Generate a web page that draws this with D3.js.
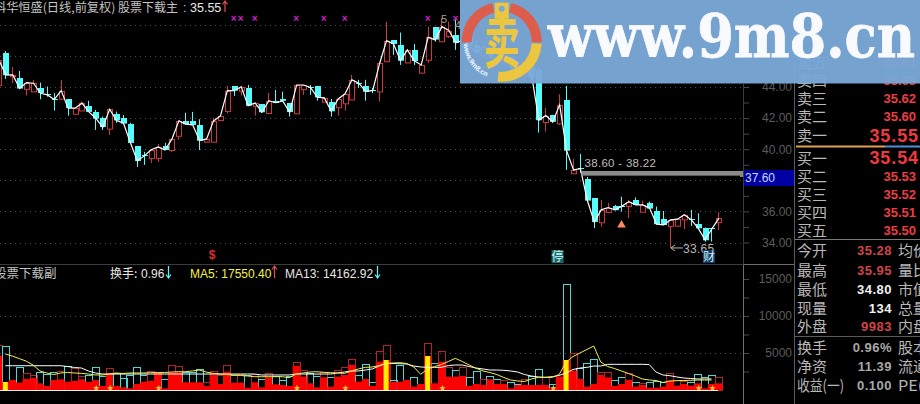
<!DOCTYPE html>
<meta charset="utf-8">
<style>
html, body { margin: 0; background: #000; overflow: hidden; }
text { font-family: "Liberation Sans", "Noto Sans CJK SC", sans-serif; }
.cn { font-family: "Noto Sans CJK SC", sans-serif; }
.axis text { fill: #5c5c5c; font-size: 12px; text-anchor: end; }
.axis line { stroke: #4a4a4a; }
.grid { stroke: #4c4c4c; stroke-dasharray: 1 4; }
</style>
<svg width="920" height="404"></svg>
<script src="https://d3js.org/d3.v7.min.js"></script>
<script>
// daily bars, oldest first. 67-77 sit behind the watermark so those are guesses
var open = [44.13,46.21,44.71,44.60,43.90,43.70,43.92,43.54,43.21,43.28,
  43.21,42.27,42.48,42.78,42.42,41.99,41.31,42.25,42.03,41.63,
  40.21,39.63,39.44,39.44,40.21,39.95,40.87,41.82,41.82,41.56,
  40.49,40.49,41.88,42.48,44.07,43.77,43.94,42.80,42.91,42.35,
  43.12,43.23,42.96,42.31,43.86,44.01,44.07,43.06,43.06,42.70,
  42.96,43.21,44.28,44.07,43.81,43.70,45.68,47.03,46.71,45.59,
  46.39,44.93,45.74,47.84,46.96,47.30,47.35,46.6,47.2,46.7,
  46.1,46.6,46.0,45.5,45.9,45.3,44.8,45.2,45.1,41.77,
  42.21,41.67,43.17,38.46,38.78,38.09,36.85,35.31,35.99,36.37,
  36.37,36.37,36.74,35.99,36.57,36.03,35.52,35.07,35.07,35.50,
  35.50,35.20,34.96,34.92,35.28];
var close = [45.74,44.78,44.78,43.92,44.28,44.24,43.60,43.49,43.20,43.77,
  42.64,42.64,42.96,42.40,41.99,41.41,42.57,41.84,41.67,40.41,
  39.25,39.57,39.96,40.15,39.95,40.66,41.82,41.61,41.56,40.55,
  40.66,41.82,42.14,43.77,43.77,44.01,42.80,42.98,42.38,43.12,
  42.99,43.11,42.38,44.13,44.13,43.97,43.34,43.30,42.46,43.23,
  43.56,44.46,44.25,43.70,43.78,45.53,46.98,46.77,45.70,46.39,
  45.68,45.42,47.20,47.03,47.88,47.63,46.85,47.0,46.6,46.2,
  46.6,46.0,45.6,45.9,45.3,44.9,45.2,44.6,41.87,42.16,
  41.77,42.85,39.91,38.67,38.75,36.70,35.31,36.10,36.25,36.10,
  36.34,36.63,36.42,36.42,36.21,35.18,35.13,35.45,35.50,35.78,
  35.47,34.92,34.17,34.89,35.55];
var high = [45.74,46.32,45.29,45.03,44.28,44.46,44.28,44.03,43.62,44.46,
  43.21,42.64,43.06,43.11,42.53,42.10,42.57,42.42,42.20,41.70,
  40.21,39.83,40.02,40.34,40.41,40.66,41.82,42.35,42.40,41.93,
  40.66,42.03,42.14,44.07,44.07,44.07,44.13,42.98,42.91,43.62,
  43.81,43.70,42.96,44.13,44.13,44.13,44.07,43.30,43.23,43.23,
  43.56,44.78,44.46,44.46,43.94,45.53,48.20,47.03,47.50,46.42,
  46.77,45.55,47.88,47.84,48.42,48.20,48.31,47.4,47.5,47.0,
  46.9,46.8,46.3,46.1,46.0,45.5,45.4,45.4,45.3,42.66,
  42.21,43.54,44.07,39.38,39.70,38.22,36.85,36.74,36.55,36.42,
  36.95,36.74,36.90,36.69,36.63,36.31,36.03,35.45,35.50,35.78,
  36.10,35.88,34.96,34.92,35.95];
var low = [44.13,44.52,44.26,43.92,43.45,43.70,43.21,43.38,42.48,43.17,
  42.16,42.27,42.48,42.40,41.24,41.24,40.92,41.69,41.60,40.40,
  38.86,38.99,39.12,39.18,39.95,39.83,40.60,41.61,41.56,39.95,
  40.40,40.49,41.88,42.31,43.43,43.45,42.80,42.16,42.33,42.35,
  42.98,43.11,42.10,42.31,43.49,43.49,43.12,43.06,42.10,42.16,
  42.48,43.21,43.94,43.12,43.60,43.06,45.68,46.06,45.42,45.59,
  45.42,44.93,45.55,46.92,46.96,47.16,46.39,46.5,46.4,46.0,
  45.9,45.8,45.5,45.3,45.1,44.7,44.6,44.4,41.07,41.13,
  41.69,41.56,38.67,38.41,38.48,36.61,34.92,35.02,35.99,36.10,
  35.99,35.56,36.42,35.99,36.21,35.18,35.13,33.65,35.07,34.86,
  35.07,34.92,34.06,34.06,34.80];

// lower panel
var volume = [6080,5940,1350,3100,2340,2030,2390,2120,2390,2570,
  3240,2970,1890,2030,3060,1890,2930,2250,1580,2030,
  3060,2030,2570,2250,1490,3380,3240,2470,2470,2800,
  1120,2570,2030,3380,2030,2160,2030,2160,1490,2250,
  1890,1350,1890,3740,2700,2250,1890,2470,1710,2700,
  3060,4190,2030,3470,1040,5270,6080,1350,3380,1350,
  1710,810,6310,3600,5310,3150,2700,3060,1710,2570,
  1440,1890,1440,1350,1040,810,1440,1890,2800,1800,
  810,1800,14270,4950,2930,3600,4150,2470,2470,1350,
  1710,2340,1040,900,1040,1260,1040,2340,1350,1260,
  1040,2120,1710,2030,1710];
var subVolume = [4630,1080,1350,990,1490,1620,900,540,1350,1440,
  1120,1220,1440,1080,1350,540,2250,540,360,230,
  810,1120,1220,2250,230,2390,2390,1040,1040,1040,
  540,2030,810,2470,990,990,310,1040,360,1710,
  770,680,540,3280,1800,900,360,1710,450,1800,
  2030,3380,1120,1490,540,3820,4050,1120,1120,1350,
  450,810,4590,900,3820,1800,1800,1890,540,810,
  680,1440,810,810,230,680,680,680,680,680,
  230,1800,4050,2610,1490,450,810,2030,1710,540,
  810,1350,450,680,310,310,450,1260,580,810,
  580,900,230,810,900];
var ma5 = [null,4860,4590,4250,3910,3380,2570,2300,2090,2300,
  2360,2300,2250,2160,2030,2030,2160,2300,2230,2300,
  2300,2300,2340,2360,2360,2430,2470,2470,2570,2700,
  2430,2250,2160,2090,2030,1960,1890,1800,1800,1800,
  1800,1800,1660,2160,2300,2430,2470,2390,2340,2300,
  2250,2570,2840,3060,3110,3310,3600,3650,3690,3580,
  3110,2120,2840,3170,3440,3850,4280,3850,3380,2930,
  2570,2360,2090,1690,1350,1220,1150,1490,1710,1710,
  1710,2090,3780,4520,5000,5470,5940,3780,3170,2900,
  2570,2230,1890,1490,1350,1280,1010,1220,1260,1280,
  1310,1350,1350,1350];
var ma13 = [null,3280,3280,3280,3280,3280,3280,3280,3280,3280,
  3170,3040,2970,2570,2300,2160,2160,2160,2160,2160,
  2160,2160,2160,2160,2160,2160,2160,2160,2160,2160,
  2160,2160,2160,2160,2160,2160,2160,2160,2030,2030,
  2030,2030,2030,2160,2160,2160,2160,2160,2160,2300,
  2430,2570,2570,2700,2840,3240,3580,3580,3550,3510,
  3240,3110,3060,3060,3060,3310,3380,3380,3170,2970,
  2840,2700,2700,2660,2570,2430,2090,1890,1760,1710,
  1800,1960,2300,2770,2970,3060,3240,3240,3470,3470,
  3470,3470,3470,3470,3440,2430,2030,1930,1760,1620,
  1550,1490,1490,1490];

var yellowBars = [1, 56, 62, 82];
var starBars = [14, 16, 23, 43, 50, 64, 80, 101, 103];
var crossBars = [34, 35, 37, 43, 47, 50, 62, 66];

var priceTicks = d3.range(34, 49);
var priceLabels = [34, 36, 40, 42, 44];
var volumeTicks = d3.range(2500, 17500, 2500);
var gapBand = [38.6, 38.3];

var askLabels = ["卖五", "卖四", "卖三", "卖二", "卖一"];
var askPrices = ["35.64", "35.63", "35.62", "35.60", "35.55"];
var bidLabels = ["买一", "买二", "买三", "买四", "买五"];
var bidPrices = ["35.54", "35.53", "35.52", "35.51", "35.50"];
var statLabels = ["今开", "最高", "最低", "现量", "外盘"];
var statValues = ["35.28", "35.95", "34.80", "134", "9983"];
var statColors = ["#d0444c", "#d0444c", "#f0f0f0", "#f0f0f0", "#d0444c"];
var statLabels2 = ["均价", "量比", "市值", "总量", "内盘"];
var infoLabels = ["换手", "净资", "收益(一)"];
var infoValues = ["0.96%", "11.39", "0.100"];
var infoLabels2 = ["股本", "流通", "PE(动)"];

var svg = d3.select("svg");
var RED = "#cc3a3e", CYAN = "#54fcfc";
var idx = d3.range(close.length);

var x = d3.scaleLinear().domain([0, 104]).range([-1.6, 718.4]);
var y = d3.scaleLinear().domain([34, 44]).range([242.5, 87]);
var v = d3.scaleLinear().domain([0, 15000]).range([390, 279]);
var step = x(1) - x(0);

// grid
svg.selectAll(".gp").data(priceTicks.filter(function(d) { return d % 2 == 0; })).enter().append("line")
    .attr("class", "grid")
    .attr("x1", 0).attr("x2", 744)
    .attr("y1", function(d) { return Math.round(y(d)) + .5; })
    .attr("y2", function(d) { return Math.round(y(d)) + .5; });
svg.selectAll(".gv").data([5000, 10000]).enter().append("line")
    .attr("class", "grid")
    .attr("x1", 0).attr("x2", 744)
    .attr("y1", function(d) { return Math.round(v(d)) + .5; })
    .attr("y2", function(d) { return Math.round(v(d)) + .5; });

// frame lines
svg.append("line").attr("x1", 0).attr("x2", 744).attr("y1", 264.5).attr("y2", 264.5).attr("stroke", "#3c3c3c");
svg.append("line").attr("x1", 743.5).attr("x2", 743.5).attr("y1", 84).attr("y2", 265).attr("stroke", "#3c3c3c");
svg.append("line").attr("x1", 743.5).attr("x2", 743.5).attr("y1", 265).attr("y2", 404).attr("stroke", "#6e6e6e");
svg.append("line").attr("x1", 743.5).attr("x2", 794).attr("y1", 264.5).attr("y2", 264.5).attr("stroke", "#6e6e6e");
svg.append("line").attr("x1", 794.5).attr("x2", 794.5).attr("y1", 0).attr("y2", 404).attr("stroke", "#5a5a5a");

// axes
var priceAxis = d3.axisRight(y).tickValues(priceTicks).tickSize(5)
    .tickFormat(function(d) { return priceLabels.indexOf(d) >= 0 ? d3.format(".2f")(d) : ""; });
svg.append("g").attr("class", "axis").attr("transform", "translate(744,0)").call(priceAxis)
    .call(function(g) { g.select(".domain").remove(); })
    .selectAll("text").attr("x", 48);
var volumeAxis = d3.axisRight(v).tickValues(volumeTicks).tickSize(5)
    .tickFormat(function(d) { return d % 5000 == 0 ? d : ""; });
svg.append("g").attr("class", "axis").attr("transform", "translate(744,0)").call(volumeAxis)
    .call(function(g) { g.select(".domain").remove(); })
    .selectAll("text").attr("x", 48);

// candles
function isUp(i) { return close[i] > open[i]; }
var candle = svg.append("g").selectAll("g").data(idx).enter().append("g");
candle.append("line")
    .attr("x1", function(i) { return Math.round(x(i)) + .5; })
    .attr("x2", function(i) { return Math.round(x(i)) + .5; })
    .attr("y1", function(i) { return y(high[i]); })
    .attr("y2", function(i) { return y(low[i]); })
    .attr("stroke", function(i) { return isUp(i) ? RED : CYAN; });
candle.append("rect")
    .attr("x", function(i) { return Math.round(x(i)) - 2 + (isUp(i) ? .5 : 0); })
    .attr("width", function(i) { return isUp(i) ? 5 : 6; })
    .attr("y", function(i) { return Math.round(y(Math.max(open[i], close[i]))) + (isUp(i) ? .5 : 0); })
    .attr("height", function(i) { return Math.max(1, Math.abs(y(open[i]) - y(close[i]))); })
    .attr("fill", function(i) { return isUp(i) ? "#000" : CYAN; })
    .attr("stroke", function(i) { return isUp(i) ? RED : "none"; });

// close line
svg.append("path").datum(idx)
    .attr("fill", "none").attr("stroke", "#fff").attr("stroke-width", 1.2)
    .attr("d", d3.line().x(function(i) { return x(i) + .5; }).y(function(i) { return y(close[i]); }));

// pink marks up top
svg.selectAll(".cross").data(crossBars).enter().append("text")
    .attr("x", function(i) { return x(i); }).attr("y", 22)
    .attr("text-anchor", "middle").attr("font-size", 10).attr("font-weight", "bold").attr("fill", "#d020d0")
    .text("×");

// gap band and its label
svg.append("rect").attr("x", x(84) + 1.5).attr("width", 743 - x(84) - 1.5)
    .attr("y", y(gapBand[0])).attr("height", y(gapBand[1]) - y(gapBand[0])).attr("fill", "#8c8c8c");
svg.append("text").attr("x", 584.5).attr("y", 167).attr("font-size", 11.5).attr("letter-spacing", .3).attr("fill", "#bdbdbd")
    .text("38.60 - 38.22");

// low label, partly under the 财 box
svg.append("path").datum(97)
    .attr("d", function(i) { var l = y(low[i]); return "M" + (x(i) + 1) + " " + l + "h12M" + (x(i) + 1) + " " + l + "l4 -3M" + (x(i) + 1) + " " + l + "l4 3"; })
    .attr("stroke", "#b8b8b8").attr("fill", "none");
svg.append("text").attr("x", 683).attr("y", 252.5).attr("font-size", 12).attr("letter-spacing", .3).attr("fill", "#b8b8b8").text("33.65");

svg.append("path").attr("d", d3.symbol(d3.symbolTriangle, 32)).attr("transform", "translate(621.5,225)").attr("fill", "#ff8a5c");

// badges on the date row
var badges = [["停", 557.5, "#0e6e70"], ["财", 709, "#0c3c6c"]];
svg.selectAll(".badge").data(badges).enter().append("rect")
    .attr("x", function(d) { return d[1] - 6; }).attr("y", 250).attr("width", 12).attr("height", 13)
    .attr("fill", function(d) { return d[2]; });
svg.selectAll(".badget").data(badges).enter().append("text").attr("class", "cn")
    .attr("x", function(d) { return d[1]; }).attr("y", 261)
    .attr("text-anchor", "middle").attr("font-size", 12).attr("fill", "#d8f0f0")
    .text(function(d) { return d[0]; });
svg.append("text").attr("x", 212).attr("y", 259).attr("text-anchor", "middle").attr("font-size", 12)
    .attr("font-weight", "bold").attr("fill", "#d83030").text("$");

// hollow total volume
svg.append("g").selectAll("rect").data(idx).enter().append("rect")
    .attr("x", function(i) { return Math.round(x(i) - step / 2) + .5; })
    .attr("width", Math.round(step))
    .attr("y", function(i) { return Math.round(v(volume[i])) + .5; })
    .attr("height", function(i) { return 390 - Math.round(v(volume[i])); })
    .attr("fill", "none")
    .attr("stroke", function(i) { return isUp(i) ? "#b02428" : "#4cd8d8"; });

// filled part
svg.append("g").selectAll("rect").data(idx).enter().append("rect")
    .attr("x", function(i) { return x(i) - step / 2; })
    .attr("width", step + .3)
    .attr("y", function(i) { return v(subVolume[i]); })
    .attr("height", function(i) { return 390 - v(subVolume[i]); })
    .attr("fill", "#fb0202");
svg.append("g").selectAll("rect").data(yellowBars).enter().append("rect")
    .attr("x", function(i) { return x(i) - 2.5; })
    .attr("width", 5)
    .attr("y", function(i) { return v(subVolume[i]); })
    .attr("height", function(i) { return 390 - v(subVolume[i]); })
    .attr("fill", "#ffee00");

function maLine(values) {
  return d3.line()
    .defined(function(d) { return d != null; })
    .x(function(d, i) { return x(i); })
    .y(function(d) { return v(d); })(values);
}
svg.append("path").attr("d", maLine(ma13)).attr("fill", "none").attr("stroke", "#fff").attr("stroke-width", 1);
svg.append("path").attr("d", maLine(ma5)).attr("fill", "none").attr("stroke", "#f4f04a").attr("stroke-width", 1);

svg.append("line").attr("x1", 0).attr("x2", 718).attr("y1", 390.5).attr("y2", 390.5).attr("stroke", "#f4f4f4");

svg.selectAll(".star").data(starBars).enter().append("text").attr("class", "cn")
    .attr("x", function(i) { return x(i) + 1; }).attr("y", 390)
    .attr("text-anchor", "middle").attr("font-size", 7).attr("fill", "#ffc040")
    .text("★");

// header rows
function label(t, px, py, size, color, cls) {
  return svg.append("text").attr("class", cls || null).attr("x", px).attr("y", py)
    .attr("font-size", size).attr("fill", color).text(t);
}
function arrow(px, color, top, bottom, up) {
  var tip = up ? top : bottom, d = up ? 3.5 : -3.5;
  svg.append("path")
    .attr("d", "M" + px + " " + top + "V" + bottom + "M" + (px - 2.5) + " " + (tip + d) + "L" + px + " " + tip + "L" + (px + 2.5) + " " + (tip + d))
    .attr("stroke", color).attr("stroke-width", 1.2).attr("fill", "none");
}
label("科华恒盛(日线,前复权)", -6, 12, 12.2, "#c4c4c4", "cn");
label("股票下载主", 118, 12, 12, "#c4c4c4", "cn");
label(":", 183, 12, 12, "#d0d0d0");
label("35.55", 190, 12, 12.5, "#e8e8e8");
arrow(225, "#e05050", 1, 12, true);

label("股票下载副", -6, 278, 12.5, "#c4c4c4", "cn");
label("换手:", 110, 278, 12, "#e8e8e8", "cn");
label("0.96", 141, 278, 12, "#e8e8e8");
arrow(168.5, CYAN, 266, 278, false);
label("MA5: 17550.40", 190, 278, 12, "#f4f04a");
arrow(274.5, "#e05050", 266, 278, true);
label("MA13: 14162.92", 285, 278, 12, "#e8e8e8");
arrow(377.5, CYAN, 266, 278, false);

// price box
svg.append("rect").attr("x", 744).attr("y", 170).attr("width", 50).attr("height", 16).attr("fill", "#0000a2");
label("37.60", 745, 182, 12, "#c6d8ff");
svg.append("rect").attr("x", 740).attr("y", 172).attr("width", 3).attr("height", 5).attr("fill", "#888");

// quote panel
function rows(labels, rowY, px) {
  labels.forEach(function(t, i) {
    var s = label(t, px, rowY[i] + 5.5, 15, "#b8b8b8", "cn");
    // the 收益(一) label is squeezed into the column
    if (t.length > 3) s.attr("textLength", 47).attr("lengthAdjust", "spacingAndGlyphs");
  });
}
function values(vals, rowY, px, size, color, bold, spacing) {
  vals.forEach(function(t, i) {
    var c = typeof color == "string" ? color : color[i];
    svg.append("text").attr("x", px).attr("y", rowY[i] + size * .36).attr("text-anchor", "end")
      .attr("font-size", size).attr("font-weight", bold ? "bold" : "normal")
      .attr("letter-spacing", spacing).attr("fill", c).text(t);
  });
}
var askY = [62, 80, 98, 116.5, 135];
var bidY = [158, 176.5, 194, 212, 230];
rows(askLabels, askY, 797);
rows(bidLabels, bidY, 797);
values(askPrices.slice(0, 4), askY, 916, 13, "#ee3c44", true, 0);
values(bidPrices.slice(1), bidY.slice(1), 916, 13, "#ee3c44", true, 0);
values(["35.55"], [135.5], 919, 18, "#f03840", true, .9);
values(["35.54"], [158], 919, 18, "#f03840", true, .9);
svg.append("line").attr("x1", 796).attr("x2", 885).attr("y1", 146.5).attr("y2", 146.5).attr("stroke", "#e0a050").attr("stroke-width", 2);
svg.append("line").attr("x1", 885).attr("x2", 920).attr("y1", 146.5).attr("y2", 146.5).attr("stroke", "#4a90d8").attr("stroke-width", 2);

svg.append("line").attr("x1", 795).attr("x2", 920).attr("y1", 239.5).attr("y2", 239.5).attr("stroke", "#7a7a7a");
var statY = [250.5, 270, 289, 308, 326.5];
rows(statLabels, statY, 797);
rows(statLabels2, statY, 898);
values(statValues, statY, 892, 13, statColors, true, .5);
svg.append("line").attr("x1", 795).attr("x2", 920).attr("y1", 336.5).attr("y2", 336.5).attr("stroke", "#5a5a5a");
var infoY = [347, 366.5, 385];
rows(infoLabels, infoY, 797);
rows(infoLabels2, infoY, 898);
values(infoValues, infoY, 892, 13, "#a8a8a8", true, .5);

// fragments of the high label that stick out left of the watermark
label("5", 441, 23, 11, "#a0a0a0");
label("4", 455, 29, 11, "#a0a0a0");

// watermark banner
var mark = svg.append("g");
mark.append("rect").attr("x", 460).attr("y", 0).attr("width", 460).attr("height", 83.5).attr("fill", "#7ba9d9").attr("fill-opacity", .96);
var logo = mark.append("g").attr("transform", "translate(501.7,41.7)");
var ring = d3.arc().innerRadius(30).outerRadius(40);
var rad = Math.PI / 180;
logo.append("path").attr("d", ring({startAngle: 14 * rad, endAngle: 91 * rad})).attr("fill", "#dd5c4a");
logo.append("path").attr("d", ring({startAngle: -91 * rad, endAngle: -14 * rad})).attr("fill", "#dd5c4a");
logo.append("path").attr("d", ring({startAngle: 93 * rad, endAngle: 186 * rad})).attr("fill", "#ecc63e");
logo.append("rect").attr("x", -7).attr("y", -39).attr("width", 14).attr("height", 16).attr("fill", "#ecc63e");
logo.append("circle").attr("cx", 0).attr("cy", -33).attr("r", 3).attr("fill", "#7ba9d9");
logo.append("text").attr("class", "cn").attr("transform", "translate(0,21) scale(.62,1)")
    .attr("text-anchor", "middle").attr("font-size", 58).attr("font-weight", "bold").attr("fill", "#ecc63e").text("卖");
logo.append("path").attr("id", "logoArc").attr("fill", "none").attr("d", "M-38 2A38 38 0 0 0 -4 38");
logo.append("text").attr("font-size", 7).attr("font-weight", "bold").attr("fill", "#f4f8ff")
    .append("textPath").attr("href", "#logoArc").text("www.9m8.cn");
mark.append("text").attr("x", 548).attr("y", 57).attr("textLength", 367).attr("lengthAdjust", "spacingAndGlyphs")
    .style("font-family", "'DejaVu Serif', serif").attr("font-weight", "bold").attr("font-size", 60)
    .attr("fill", "#f8fafd").attr("stroke", "#f8fafd").attr("stroke-width", .8)
    .text("www.9m8.cn");
</script>
